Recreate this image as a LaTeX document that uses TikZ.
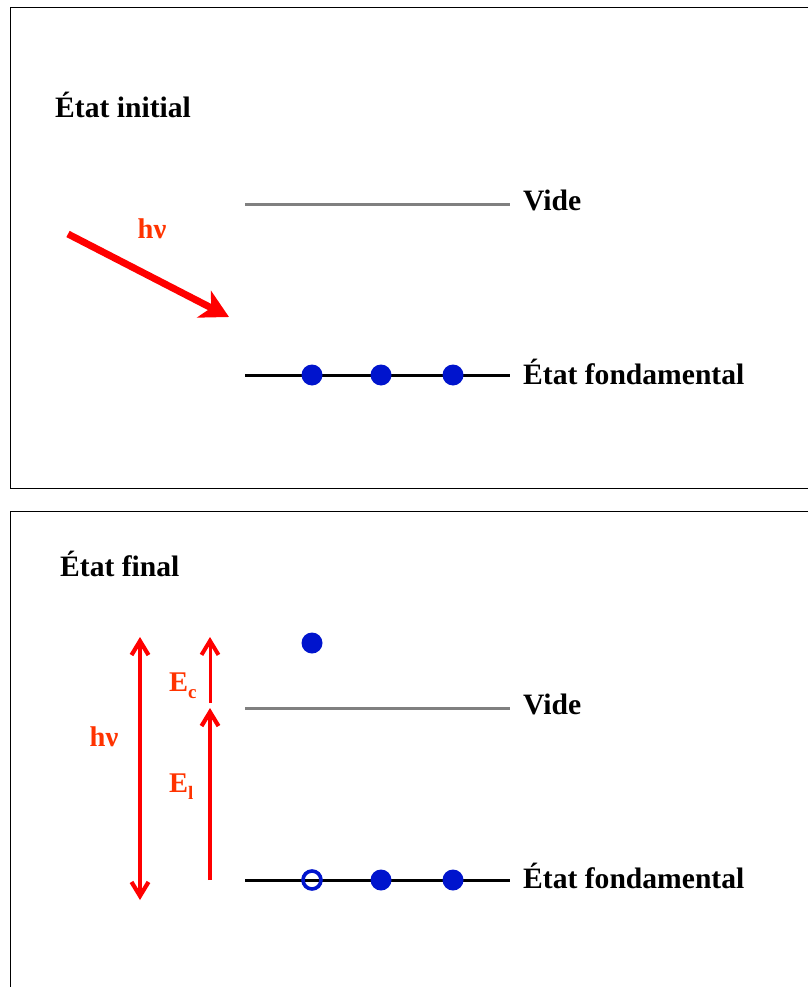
\documentclass[tikz,border=0pt]{standalone}
\usepackage{fontspec}
\setmainfont{Liberation Serif}
\usetikzlibrary{arrows.meta}
\definecolor{arrred}{RGB}{255,0,0}
\definecolor{lblred}{RGB}{255,51,0}
\definecolor{eblue}{RGB}{0,20,205}
\definecolor{vgray}{RGB}{128,128,128}
\begin{document}
\begin{tikzpicture}[x=1pt,y=-1pt,
  lbl/.style={anchor=base west, inner sep=0pt, font=\fontsize{29.6}{31}\selectfont\bfseries},
  rlbl/.style={inner sep=0pt, text=lblred, font=\fontsize{28.5}{30}\selectfont\bfseries},
  frame/.style={line width=1.6pt, black},
  vide/.style={line width=3pt, vgray},
  fond/.style={line width=3pt, black},
  elec/.style={circle, fill=eblue, minimum size=21pt, inner sep=0pt},
  hole/.style={circle, draw=eblue, line width=3.6pt, minimum size=18pt, inner sep=0pt},
  photon/.style={line width=7pt, arrred, -{Stealth[length=28pt,width=30pt,inset=8pt]}},
  bigarr/.style={line width=4.5pt, arrred},
  smallarr/.style={line width=3pt, arrred}
]
\useasboundingbox (0,0) rectangle (808,987);
% frames
\draw[frame] (808,7.5) -- (10.5,7.5) -- (10.5,488.5) -- (808,488.5);
\draw[frame] (808,511.5) -- (10.5,511.5) -- (10.5,987);

% ---- top panel ----
\node[lbl] (init) at (55,118) {État initial};
\coordinate (v1a) at (245,204); \coordinate (v1b) at (510,204);
\draw[vide] (v1a) -- (v1b);
\node[lbl] (vide1) at (523,210) {Vide};
\coordinate (f1a) at (245,375); \coordinate (f1b) at (510,375);
\draw[fond] (f1a) -- (f1b);
\node[elec] (e1) at (312,375) {};
\node[elec] (e2) at (381,375) {};
\node[elec] (e3) at (453,375) {};
\node[lbl] (fond1) at (523,384) {État fondamental};
\coordinate (p1) at (68,234); \coordinate (p2) at (229,317);
\draw[photon] (p1) -- (p2);
\node[rlbl] (hnu1) at (152,229) {hν};

% ---- bottom panel ----
\node[lbl] (final) at (60,576) {État final};
\coordinate (v2a) at (245,708); \coordinate (v2b) at (510,708);
\draw[vide] (v2a) -- (v2b);
\node[lbl] (vide2) at (523,714) {Vide};
\coordinate (f2a) at (245,880); \coordinate (f2b) at (510,880);
\draw[fond] (f2a) -- (f2b);
\node[hole] (h1) at (312,880) {};
\node[elec] (e5) at (381,880) {};
\node[elec] (e6) at (453,880) {};
\node[lbl] (fond2) at (523,888) {État fondamental};
\node[elec] (ef) at (312,643) {};

\coordinate (hb) at (140,900); \coordinate (ht) at (140,637);
\draw[bigarr, {Straight Barb[length=14pt,width=17pt,line width=4.2pt]}-{Straight Barb[length=14pt,width=17pt,line width=4.2pt]}] (hb) -- (ht);
\node[rlbl] (hnu2) at (104,737) {hν};

\coordinate (ecb) at (210,703); \coordinate (ect) at (210,637);
\draw[smallarr, -{Straight Barb[length=14pt,width=17pt,line width=4pt]}] (ecb) -- (ect);
\coordinate (elb) at (210,880); \coordinate (elt) at (210,708);
\draw[bigarr, -{Straight Barb[length=14pt,width=17pt,line width=4.2pt]}] (elb) -- (elt);
\node[rlbl, anchor=base west] (ec) at (169,691) {E\raisebox{-7pt}{\fontsize{19}{19}\selectfont c}};
\node[rlbl, anchor=base west] (el) at (169,792) {E\raisebox{-7pt}{\fontsize{19}{19}\selectfont l}};
\end{tikzpicture}
\end{document}
